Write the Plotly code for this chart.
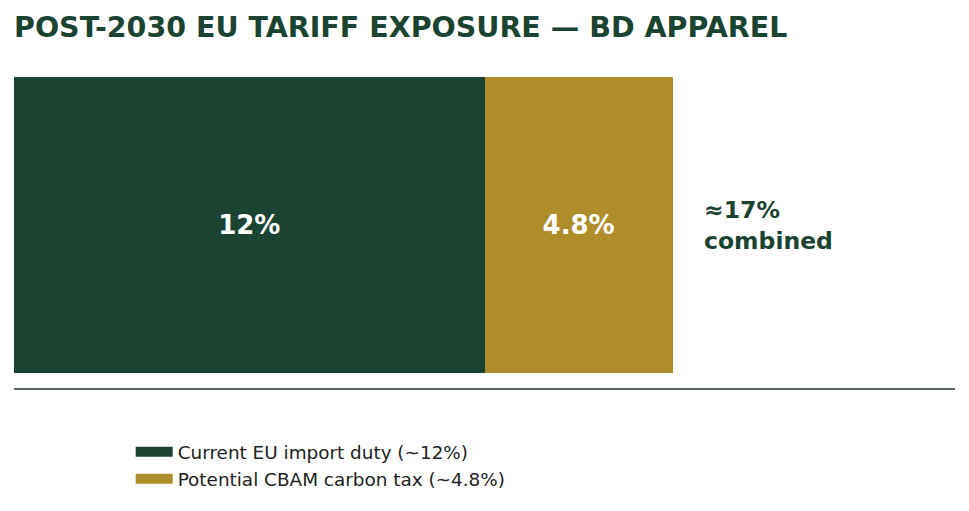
import plotly.graph_objects as go

# values
labels = ["Current EU import duty (~12%)", "Potential CBAM carbon tax (~4.8%)"]
values = [12, 4.8]
bar_text = ["12%", "4.8%"]
colors = ["#1b4332", "#b08d2b"]
category = ["BD apparel"]
combined_label = "≈17%<br>combined"

fig = go.Figure()

for lab, val, txt, col in zip(labels, values, bar_text, colors):
    fig.add_trace(go.Bar(
        x=[val], y=category, orientation="h",
        marker=dict(color=col, line=dict(width=0)),
        width=1.0,
        text=[txt], textposition="inside", insidetextanchor="middle",
        textfont=dict(family="DejaVu Sans", size=26, color="white", weight="bold"),
        showlegend=False, name=lab,
    ))
    # legend entry drawn as a thick line so the swatch is a wide bar
    fig.add_trace(go.Scatter(
        x=[None], y=[None], mode="lines", name=lab,
        line=dict(color=col, width=13),
    ))

fig.add_annotation(
    x=sum(values), y=category[0], text=combined_label,
    xanchor="left", align="left", showarrow=False, xshift=29,
    font=dict(family="DejaVu Sans", size=23.5, color="#1b4332", weight="bold"),
)

fig.update_layout(
    barmode="stack",
    width=969, height=511,
    margin=dict(l=6, r=22, t=54, b=131),
    plot_bgcolor="white", paper_bgcolor="white",
    title=dict(text="POST-2030 EU TARIFF EXPOSURE — BD APPAREL",
               x=6 / 969, xref="container", xanchor="left", y=0.963, yanchor="middle",
               font=dict(family="DejaVu Sans", size=28.5, color="#1b4332", weight="bold")),
    xaxis=dict(range=[0, 24], showgrid=False, zeroline=False, showticklabels=False,
               showline=True, linecolor="#5b6b63", linewidth=1.5, ticks=""),
    yaxis=dict(range=[-0.55, 0.55], showgrid=False, zeroline=False, showticklabels=False,
               showline=False),
    legend=dict(x=0.124, y=-0.139, xanchor="left", yanchor="top", traceorder="normal",
                itemwidth=37,
                font=dict(family="DejaVu Sans", size=18.4, color="#222222"),
                bgcolor="rgba(0,0,0,0)"),
    font=dict(family="DejaVu Sans"),
)

fig.write_html("out.html")
